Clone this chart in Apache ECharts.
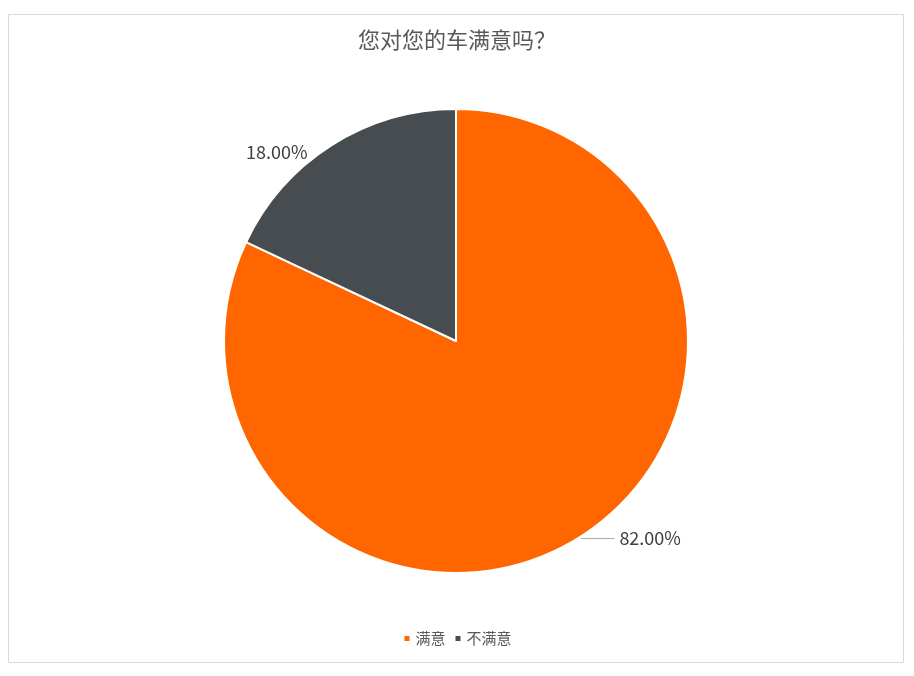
<!DOCTYPE html>
<html>
<head>
<meta charset="utf-8">
<script src="https://cdn.jsdelivr.net/npm/echarts@6/dist/echarts.min.js"></script>
<style>
  html, body { margin: 0; padding: 0; background: #fff; }
  #chart { width: 914px; height: 676px; }
</style>
</head>
<body>
<div id="chart"></div>
<script>
  // answers and their shares (%)
  const categories = ['满意', '不满意'];
  const shares = [82, 18];
  const colors = ['#FF6600', '#464C50'];

  const font = '"Noto Sans CJK SC", "Noto Sans", sans-serif';

  document.addEventListener("DOMContentLoaded", () => {
    echarts.init(document.querySelector("#chart")).setOption({
      animation: false,
      color: colors,
      title: {
        text: '您对您的车满意吗？',
        left: 'center',
        top: 24,
        textStyle: {
          fontFamily: font,
          fontSize: 22,
          fontWeight: 'normal',
          color: '#595959'
        }
      },
      legend: {
        bottom: 25,
        left: 'center',
        icon: 'rect',
        itemWidth: 7,
        itemHeight: 7,
        itemGap: 8,
        textStyle: {
          fontFamily: font,
          fontSize: 15,
          color: '#595959'
        },
        data: categories
      },
      graphic: [{
        type: 'rect',
        shape: { x: 8.5, y: 14.5, width: 895, height: 648 },
        style: { fill: 'none', stroke: '#d9d9d9', lineWidth: 1 },
        silent: true
      }],
      series: [{
        type: 'pie',
        center: [456, 341],
        radius: 232,
        startAngle: 90,
        clockwise: true,
        itemStyle: {
          borderColor: '#fff',
          borderWidth: 2
        },
        label: {
          show: true,
          position: 'outside',
          formatter: p => p.value.toFixed(2) + '%',
          fontFamily: font,
          fontSize: 18,
          color: '#404040'
        },
        labelLine: {
          show: true,
          length: 2,
          length2: 33,
          smooth: false,
          lineStyle: { color: '#a6a6a6', width: 1 }
        },
        // small label nudge for the smaller slice, like the original
        labelLayout: p => p.dataIndex === 1 ? { dx: 15, dy: 9 } : {},
        emphasis: { disabled: true },
        data: categories.map((name, i) => ({
          name,
          value: shares[i],
          labelLine: i === 1 ? { show: false } : undefined
        }))
      }]
    });
  });
</script>
</body>
</html>
